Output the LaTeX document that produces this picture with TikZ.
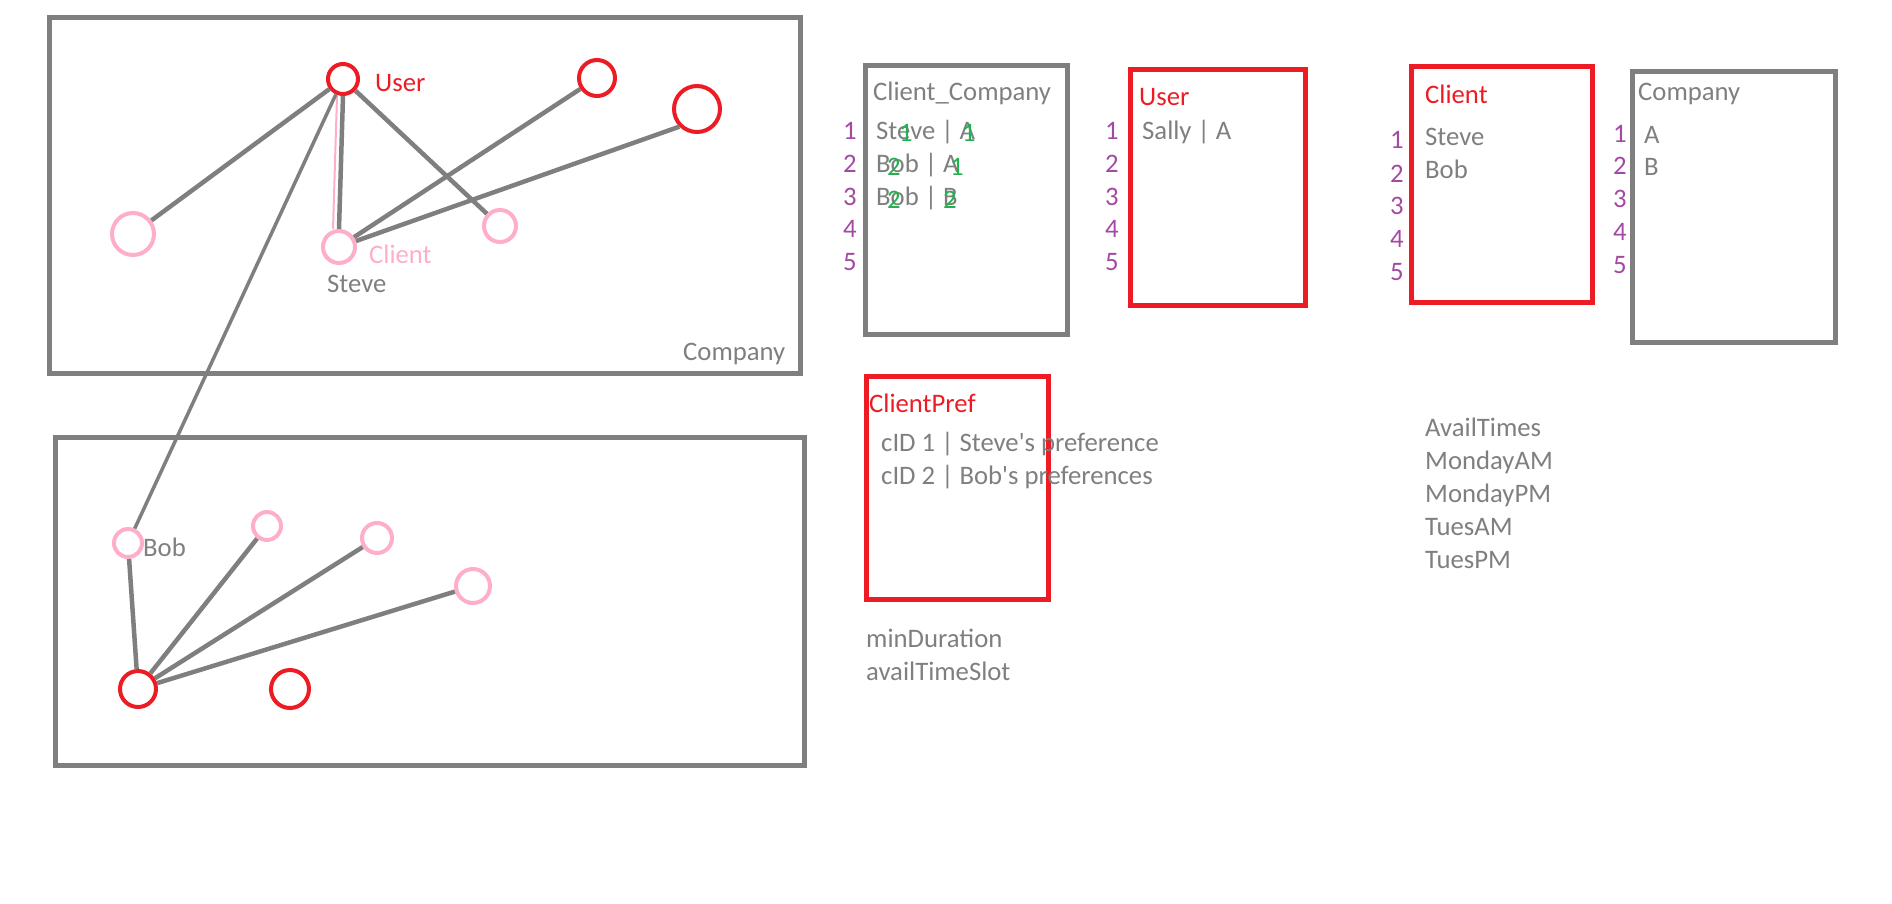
\documentclass[tikz,border=0pt]{standalone}
\usepackage{fontspec}
\setmainfont{Carlito}
\definecolor{pRed}{HTML}{ED1C24}
\definecolor{pPink}{HTML}{FFAEC9}
\definecolor{pGray}{HTML}{7F7F7F}
\definecolor{pPurple}{HTML}{A349A4}
\definecolor{pGreen}{HTML}{22B14C}
\begin{document}
\begin{tikzpicture}[x=1pt,y=-1pt,
  frame/.style={draw=pGray,line width=5pt},
  redframe/.style={draw=pRed,line width=5pt},
  rc/.style={circle,draw=pRed,line width=4pt,inner sep=0pt},
  pc/.style={circle,draw=pPink,line width=4pt,inner sep=0pt},
  link/.style={draw=pGray,line width=4.5pt},
  trace/.style={draw=pPink,line width=2pt},
  txt/.style={inner sep=0pt,anchor=base west,font=\fontsize{26.7}{32}\selectfont,text=pGray},
  rtxt/.style={txt,text=pRed},
  ptxt/.style={txt,text=pPink},
  num/.style={txt,text=pPurple},
  gnum/.style={txt,text=pGreen}]
\useasboundingbox (0,0) rectangle (1892,903);

% ---------- company frames ----------
\draw[frame] (49,17) rectangle (800,373);
\draw[frame] (55,437) rectangle (804,765);
\node[txt] (lblcompany) at (683,360) {Company};

% ---------- top graph ----------
\node[rc,minimum size=30pt] (user) at (343,79) {};
\node[rc,minimum size=36pt] (r1) at (597,78) {};
\node[rc,minimum size=46pt] (r2) at (697,109) {};
\node[pc,minimum size=42pt] (pl) at (133,234) {};
\node[pc,minimum size=32pt] (steve) at (339,247) {};
\node[pc,minimum size=32pt] (pr) at (500,226) {};
\node[rtxt] (lbluser) at (375,91) {User};
\node[ptxt] (lblclient) at (369,263) {Client};
\node[txt] (lblsteve) at (327,292) {Steve};

\draw[trace] ([xshift=-6pt]user.south) -- ([xshift=-6pt]steve.north);
\draw[link] (user) -- (pl);
\draw[link] (user.south) -- (steve.north);
\draw[link] (user) -- (pr);
\draw[link] (r1) -- (steve);
\draw[link] (r2.south west) -- (steve);

% ---------- bottom graph ----------
\node[pc,minimum size=28pt] (bob) at (128,543) {};
\node[pc,minimum size=28pt] (b2) at (267,526) {};
\node[pc,minimum size=30pt] (b3) at (377,538) {};
\node[pc,minimum size=34pt] (b4) at (473,586) {};
\node[rc,minimum size=36pt] (rb) at (138,689) {};
\node[rc,minimum size=38pt] (rb2) at (290,689) {};
\node[txt] (lblbob) at (143,556) {Bob};

\draw[link,line width=3.5pt] (user) -- (bob);
\draw[link] (bob) -- (rb);
\draw[link] (rb) -- (b2);
\draw[link] (rb) -- (b3);
\draw[link] (rb) -- (b4);

% ---------- Client_Company table ----------
\draw[frame] (865,65) rectangle (1067,334);
\node[txt] (cct) at (873,100) {Client\_Company};
\foreach \i/\yy in {1/139,2/172,3/205,4/237,5/270}
  \node[num] (ccn\i) at (843,\yy) {\i};
\node[txt] (cc1) at (876,139) {Steve | A};
\node[txt] (cc2) at (876,172) {Bob | A};
\node[txt] (cc3) at (876,205) {Bob | B};
\node[gnum] (g1a) at (899,141) {1};
\node[gnum] (g1b) at (962,141) {1};
\node[gnum] (g2a) at (887,175) {2};
\node[gnum] (g2b) at (950,175) {1};
\node[gnum] (g3a) at (887,208) {2};
\node[gnum] (g3b) at (943,208) {2};

% ---------- User table ----------
\draw[redframe] (1130,69) rectangle (1305,305);
\node[rtxt] (ut) at (1139,105) {User};
\foreach \i/\yy in {1/139,2/172,3/205,4/237,5/270}
  \node[num] (un\i) at (1105,\yy) {\i};
\node[txt] (u1) at (1142,139) {Sally | A};

% ---------- Client table ----------
\draw[redframe] (1411,66) rectangle (1592,302);
\node[rtxt] (ct) at (1425,103) {Client};
\foreach \i/\yy in {1/148,2/182,3/214,4/247,5/280}
  \node[num] (cn\i) at (1390,\yy) {\i};
\node[txt] (c1) at (1425,145) {Steve};
\node[txt] (c2) at (1425,178) {Bob};

% ---------- Company table ----------
\draw[frame] (1632,71) rectangle (1835,342);
\node[txt] (cot) at (1638,100) {Company};
\foreach \i/\yy in {1/142,2/174,3/207,4/240,5/273}
  \node[num] (con\i) at (1613,\yy) {\i};
\node[txt] (co1) at (1644,143) {A};
\node[txt] (co2) at (1644,175) {B};

% ---------- ClientPref table ----------
\draw[redframe] (866,376) rectangle (1048,599);
\node[rtxt] (cpt) at (869,412) {ClientPref};
\node[txt] (cp1) at (881,451) {cID 1 | Steve\textquotesingle s preference};
\node[txt] (cp2) at (881,484) {cID 2 | Bob\textquotesingle s preferences};
\node[txt] (md) at (866,647) {minDuration};
\node[txt] (ats) at (866,680) {availTimeSlot};

% ---------- AvailTimes ----------
\node[txt] (av0) at (1425,436) {AvailTimes};
\node[txt] (av1) at (1425,469) {MondayAM};
\node[txt] (av2) at (1425,502) {MondayPM};
\node[txt] (av3) at (1425,535) {TuesAM};
\node[txt] (av4) at (1425,568) {TuesPM};
\end{tikzpicture}
\end{document}
